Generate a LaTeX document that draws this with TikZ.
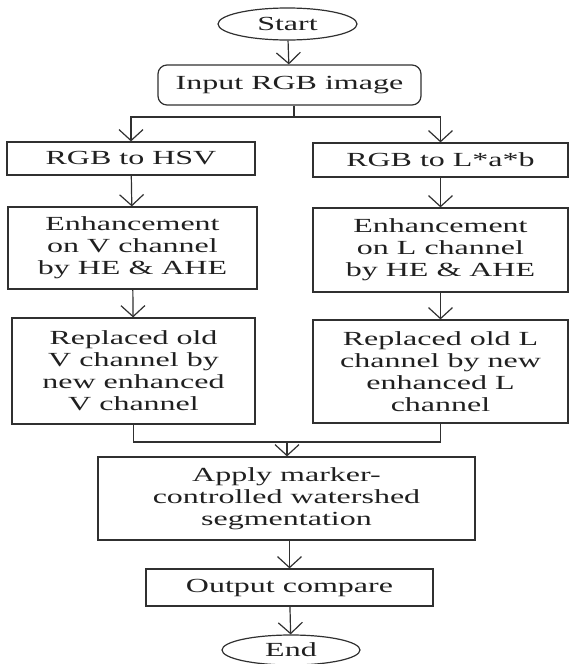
\documentclass[tikz,border=0pt]{standalone}
\usepackage{fontspec}
\setmainfont{Liberation Serif}[FakeStretch=1.6]
\usetikzlibrary{arrows.meta,shapes.geometric}
\definecolor{linec}{HTML}{303030}
\definecolor{txtc}{HTML}{202020}
\begin{document}
\begin{tikzpicture}[x=1pt,y=-1pt,
  every node/.style={inner sep=0pt, align=center, text=txtc, font=\fontsize{20}{22}\selectfont},
  box/.style={draw=linec, line width=1.2pt, rectangle},
  oval/.style={draw=linec, line width=1.2pt, ellipse},
  conn/.style={draw=linec, line width=1.2pt},
  arr/.style={conn, -{Straight Barb[length=11pt,width=24pt]}}]
\useasboundingbox (0,0) rectangle (570,664);
\node[oval, minimum width=139pt, minimum height=32pt] (start) at (287.5,24) {Start};
\node[box, rounded corners=9pt, minimum width=263pt, minimum height=40pt] (input) at (289.5,85) {Input RGB image};
\node[box, minimum width=248pt, minimum height=33pt] (hsv) at (131,158.5) {RGB to HSV};
\node[box, minimum width=255pt, minimum height=34pt] (lab) at (440.5,160) {RGB to L*a*b};
\node[box, minimum width=249pt, minimum height=82pt] (enhV) at (132.5,248) {Enhancement\\on V channel\\by HE \& AHE};
\node[box, minimum width=255pt, minimum height=84pt] (enhL) at (440.5,250) {Enhancement\\on L channel\\by HE \& AHE};
\node[box, minimum width=243pt, minimum height=106pt] (repV) at (133.5,371) {Replaced old\\V channel by\\new enhanced\\V channel};
\node[box, minimum width=255pt, minimum height=103pt] (repL) at (440.5,371.5) {Replaced old L\\channel by new\\enhanced L\\channel};
\node[box, minimum width=377pt, minimum height=83pt] (apply) at (286.5,498.5) {Apply marker-\\controlled watershed\\segmentation};
\node[box, minimum width=287pt, minimum height=37pt] (output) at (289.5,587.5) {Output compare};
\node[oval, minimum width=138pt, minimum height=30pt] (end) at (291,650) {End};
\coordinate (sp) at (294,117);
\coordinate (mg) at (287,442);
\draw[arr] (start) -- (input);
\draw[conn] (input.south -| sp) -- (sp);
\draw[arr] (sp) -| (hsv.north);
\draw[arr] (sp) -| (lab.north);
\draw[arr] (hsv) -- (enhV);
\draw[arr] (lab) -- (enhL);
\draw[arr] (enhV) -- (repV);
\draw[arr] (enhL) -- (repL);
\draw[conn] (repV.south) |- (mg) -| (repL.south);
\draw[arr] (mg) -- (apply.north -| mg);
\draw[arr] (apply.south -| output) -- (output);
\draw[arr] (output) -- (end);
\end{tikzpicture}
\end{document}
